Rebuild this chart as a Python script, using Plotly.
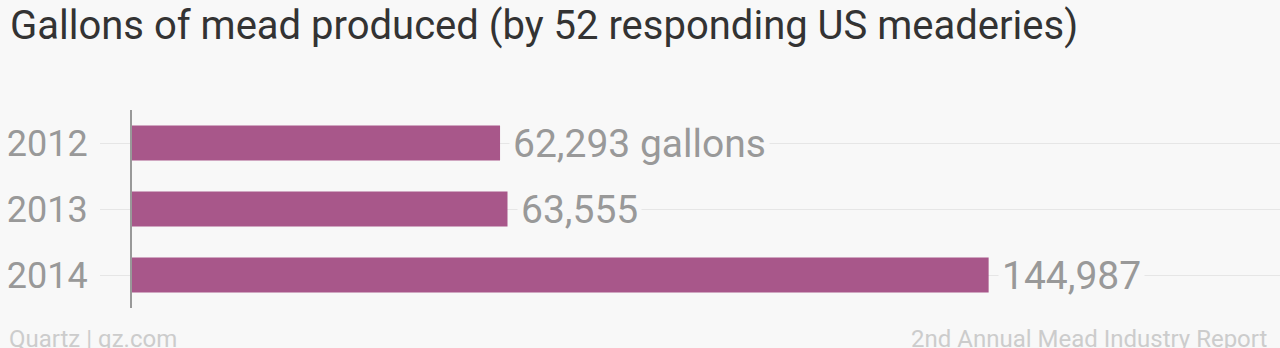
import plotly.graph_objects as go

years = ["2012", "2013", "2014"]
gallons = [62293, 63555, 144987]
labels = ["62,293 gallons", "63,555", "144,987"]

BG = "#f8f8f8"
BAR = "#a8578a"

fig = go.Figure(go.Bar(
    x=gallons, y=years, orientation="h",
    marker=dict(color=BAR, line=dict(width=0)),
    width=0.53, hoverinfo="skip",
))

annotations = []
for i, (v, t) in enumerate(zip(gallons, labels)):
    annotations.append(dict(
        x=v, y=i, xref="x", yref="y", text=t, showarrow=False,
        xanchor="left", yanchor="middle", xshift=9, yshift=-1,
        font=dict(family="Roboto", size=39, color="#999999"),
        bgcolor=BG, borderpad=3,
    ))

annotations.append(dict(
    x=0, y=1, xref="paper", yref="paper", text="Gallons of mead produced (by 52 responding US meaderies)",
    showarrow=False, xanchor="left", yanchor="bottom", xshift=-124, yshift=59,
    font=dict(family="Roboto", size=40, color="#333333"),
))
annotations.append(dict(
    x=0, y=0, xref="paper", yref="paper", text="Quartz | qz.com",
    showarrow=False, xanchor="left", yanchor="top", xshift=-125, yshift=-15,
    font=dict(family="Roboto", size=24, color="#cccccc"),
))
annotations.append(dict(
    x=1, y=0, xref="paper", yref="paper", text="2nd Annual Mead Industry Report",
    showarrow=False, xanchor="right", yanchor="top", xshift=-10, yshift=-15,
    font=dict(family="Roboto", size=24, color="#cccccc"),
))

fig.update_layout(
    width=1280, height=348,
    margin=dict(l=132, r=0, t=110, b=40),
    paper_bgcolor=BG, plot_bgcolor=BG,
    showlegend=False,
    annotations=annotations,
    xaxis=dict(range=[0, 194300], showgrid=False, zeroline=False,
               showticklabels=False, ticks="", automargin=False),
    yaxis=dict(type="category", categoryorder="array", categoryarray=years,
               range=[2.5, -0.5], showgrid=True, gridcolor="#e6e6e6", gridwidth=1,
               ticks="outside", ticklen=30, tickcolor="#e6e6e6", tickwidth=1,
               showline=True, linecolor="#999999", linewidth=2,
               ticklabelstandoff=5, automargin=False,
               tickfont=dict(family="Roboto", size=36, color="#999999")),
)

fig.write_html("out.html")
